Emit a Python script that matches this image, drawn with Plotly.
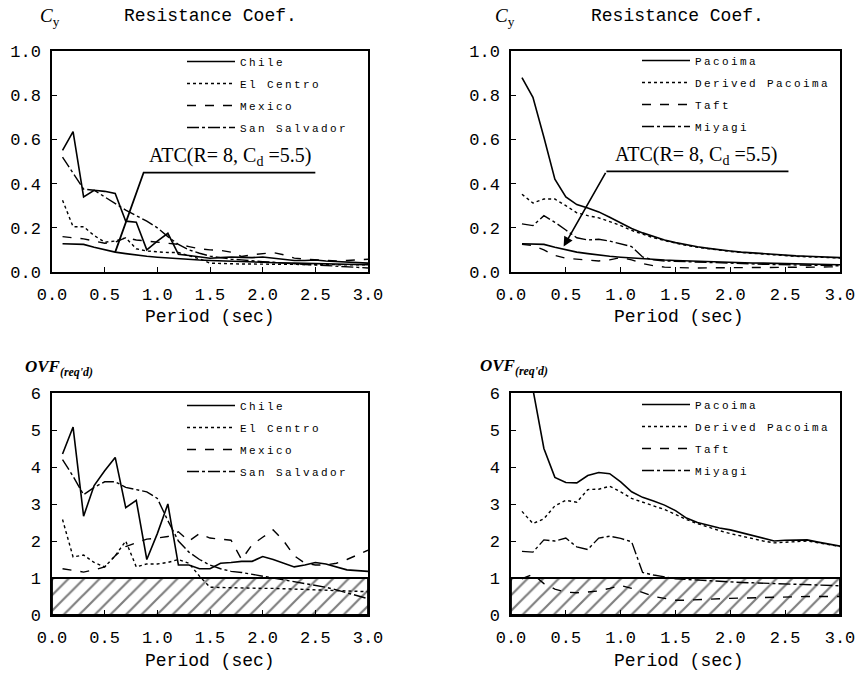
import plotly.graph_objects as go

W, H = 862, 673

period = [0.1, 0.2, 0.3, 0.4, 0.5, 0.6, 0.7, 0.8, 0.9, 1.0,
          1.1, 1.2, 1.3, 1.4, 1.5, 1.6, 1.7, 1.8, 1.9, 2.0,
          2.1, 2.2, 2.3, 2.4, 2.5, 2.6, 2.7, 2.8, 2.9, 3.0]

atc_cy = [0.128, 0.128, 0.125, 0.112, 0.1, 0.09, 0.083, 0.076, 0.071, 0.067,
          0.063, 0.06, 0.057, 0.054, 0.052, 0.05, 0.048, 0.046, 0.045, 0.043,
          0.042, 0.041, 0.04, 0.039, 0.038, 0.037, 0.036, 0.035, 0.034, 0.033]

# Top-left: resistance coefficient
chile_cy = [0.55, 0.635, 0.34, 0.37, 0.365, 0.355, 0.23, 0.225, 0.10, 0.14,
            0.175, 0.08, 0.075, 0.068, 0.062, 0.065, 0.068, 0.066, 0.065, 0.068,
            0.063, 0.058, 0.052, 0.052, 0.054, 0.05, 0.047, 0.043, 0.041, 0.04]
elcentro_cy = [0.325, 0.205, 0.205, 0.165, 0.135, 0.14, 0.155, 0.105, 0.095, 0.09,
               0.088, 0.088, 0.075, 0.06, 0.04, 0.038, 0.037, 0.036, 0.036, 0.035,
               0.035, 0.035, 0.034, 0.034, 0.034, 0.033, 0.033, 0.032, 0.032, 0.032]
mexico_cy = [0.16, 0.155, 0.15, 0.14, 0.13, 0.135, 0.155, 0.145, 0.14, 0.135,
             0.13, 0.125, 0.115, 0.105, 0.1, 0.098, 0.09, 0.07, 0.078, 0.083,
             0.088, 0.078, 0.063, 0.058, 0.055, 0.052, 0.05, 0.052, 0.055, 0.058]
sansal_cy = [0.52, 0.45, 0.375, 0.37, 0.34, 0.31, 0.28, 0.255, 0.23, 0.2,
             0.16, 0.125, 0.1, 0.085, 0.072, 0.065, 0.058, 0.055, 0.05, 0.047,
             0.044, 0.04, 0.037, 0.034, 0.032, 0.03, 0.027, 0.024, 0.021, 0.018]

# Top-right: resistance coefficient
pacoima_cy = [0.88, 0.79, 0.61, 0.42, 0.34, 0.305, 0.29, 0.272, 0.248, 0.222,
              0.197, 0.177, 0.16, 0.145, 0.133, 0.122, 0.114, 0.107, 0.1, 0.095,
              0.09, 0.086, 0.082, 0.078, 0.075, 0.073, 0.071, 0.069, 0.067, 0.065]
derived_cy = [0.352, 0.312, 0.33, 0.33, 0.3, 0.268, 0.255, 0.245, 0.228, 0.21,
              0.188, 0.17, 0.155, 0.142, 0.13, 0.12, 0.112, 0.105, 0.098, 0.093,
              0.088, 0.084, 0.08, 0.076, 0.073, 0.071, 0.069, 0.067, 0.065, 0.063]
taft_cy = [0.125, 0.12, 0.1, 0.075, 0.062, 0.058, 0.052, 0.05, 0.055, 0.065,
           0.055, 0.038, 0.028, 0.022, 0.02, 0.018, 0.018, 0.019, 0.019, 0.02,
           0.02, 0.02, 0.021, 0.021, 0.021, 0.022, 0.022, 0.022, 0.023, 0.023]
miyagi_cy = [0.218, 0.21, 0.255, 0.225, 0.19, 0.155, 0.145, 0.148, 0.14, 0.128,
             0.115, 0.068, 0.055, 0.05, 0.048, 0.046, 0.044, 0.042, 0.04, 0.038,
             0.037, 0.036, 0.035, 0.034, 0.033, 0.032, 0.031, 0.03, 0.029, 0.028]

# Bottom-left: OVF required
chile_ovf = [4.35, 5.08, 2.67, 3.5, 3.9, 4.26, 2.9, 3.1, 1.5, 2.2,
             3.0, 1.35, 1.35, 1.25, 1.25, 1.4, 1.42, 1.45, 1.45, 1.58,
             1.5, 1.4, 1.3, 1.35, 1.42, 1.38, 1.3, 1.22, 1.2, 1.18]
elcentro_ovf = [2.58, 1.57, 1.62, 1.42, 1.3, 1.6, 2.0, 1.3, 1.38, 1.38,
                1.42, 1.5, 1.4, 1.05, 0.75, 0.74, 0.74, 0.73, 0.73, 0.72,
                0.72, 0.71, 0.7, 0.69, 0.68, 0.67, 0.66, 0.65, 0.64, 0.63]
mexico_ovf = [1.25, 1.2, 1.16, 1.22, 1.3, 1.6, 1.85, 1.95, 2.05, 2.08,
              2.12, 2.25, 2.0, 2.2, 2.08, 2.05, 2.02, 1.5, 1.9, 2.1,
              2.3, 2.0, 1.6, 1.4, 1.35, 1.35, 1.4, 1.5, 1.62, 1.75]
sansal_ovf = [4.2, 3.75, 3.25, 3.45, 3.6, 3.6, 3.45, 3.4, 3.33, 3.15,
              2.55, 2.0, 1.7, 1.5, 1.35, 1.25, 1.18, 1.15, 1.1, 1.06,
              1.02, 0.95, 0.9, 0.85, 0.8, 0.75, 0.68, 0.6, 0.52, 0.44]

# Bottom-right: OVF required
pacoima_ovf = [7.0, 6.1, 4.5, 3.72, 3.58, 3.57, 3.77, 3.85, 3.82, 3.6,
               3.33, 3.18, 3.08, 2.97, 2.82, 2.62, 2.5, 2.42, 2.35, 2.3,
               2.22, 2.14, 2.07, 2.0, 2.02, 2.02, 2.03, 1.97, 1.92, 1.86]
derived_ovf = [2.8, 2.47, 2.6, 2.95, 3.1, 3.05, 3.39, 3.4, 3.48, 3.33,
               3.15, 3.05, 2.95, 2.85, 2.72, 2.58, 2.47, 2.37, 2.28, 2.2,
               2.13, 2.06, 2.0, 1.95, 1.97, 1.98, 2.0, 1.95, 1.9, 1.85]
taft_ovf = [0.98, 1.1, 0.85, 0.7, 0.62, 0.6, 0.62, 0.65, 0.72, 0.8,
            0.72, 0.6, 0.5, 0.45, 0.4, 0.4, 0.42, 0.43, 0.44, 0.45,
            0.46, 0.47, 0.47, 0.48, 0.48, 0.49, 0.5, 0.5, 0.5, 0.5]
miyagi_ovf = [1.72, 1.7, 2.03, 2.0, 2.08, 1.84, 1.77, 2.08, 2.13, 2.07,
              1.98, 1.15, 1.08, 1.02, 0.98, 0.96, 0.94, 0.92, 0.9, 0.89,
              0.88, 0.87, 0.86, 0.85, 0.84, 0.83, 0.82, 0.81, 0.8, 0.79]

# Hatched "OVF < 1" band
band_x = [0, 3, 3, 0, 0]
band_y = [0, 0, 1, 1, 0]

# ATC leader lines (data coordinates)
atc_tl_x = [0.6, 0.87, 2.5]
atc_tl_y = [0.09, 0.45, 0.45]
atc_tr_x = [0.87, 2.53]
atc_tr_y = [0.455, 0.455]
atc_tr_head = (0.48, 0.115)

MONO = "Liberation Mono"
SERIF = "Liberation Serif"

def px(x):
    return x / W

def py(y):
    return 1 - y / H

fig = go.Figure()

styles = {
    "solid": dict(dash="solid", width=1.6),
    "dot": dict(dash="dot", width=1.4),
    "dash": dict(dash="dash", width=1.4),
    "dashdot": dict(dash="12px,3px,3px,3px", width=1.4),
}

def leg(name):
    return '<span style="letter-spacing:2.4px">' + name + '</span>'

def add_series(xa, ya, legend, names, series, styles_list):
    for n, s, st in zip(names, series, styles_list):
        fig.add_trace(go.Scatter(
            x=period, y=s, mode="lines", name=leg(n),
            line=dict(color="black", **styles[st]),
            xaxis=xa, yaxis=ya, legend=legend, legendgroup=legend + n,
        ))

def add_atc(xa, ya):
    fig.add_trace(go.Scatter(x=period, y=atc_cy, mode="lines",
                             line=dict(color="black", width=1.6),
                             xaxis=xa, yaxis=ya, showlegend=False))

def add_band(xa, ya):
    fig.add_trace(go.Scatter(
        x=band_x, y=band_y, mode="lines", fill="toself",
        fillcolor="white",
        fillpattern=dict(shape="/", fgcolor="black", bgcolor="white",
                         size=11, solidity=0.2),
        line=dict(color="black", width=1.8),
        xaxis=xa, yaxis=ya, showlegend=False, hoverinfo="skip"))

st4 = ["solid", "dot", "dash", "dashdot"]

add_atc("x", "y")
add_series("x", "y", "legend", ["Chile", "El Centro", "Mexico", "San Salvador"],
           [chile_cy, elcentro_cy, mexico_cy, sansal_cy], st4)
add_atc("x2", "y2")
add_series("x2", "y2", "legend2", ["Pacoima", "Derived Pacoima", "Taft", "Miyagi"],
           [pacoima_cy, derived_cy, taft_cy, miyagi_cy], st4)
add_band("x3", "y3")
add_series("x3", "y3", "legend3", ["Chile", "El Centro", "Mexico", "San Salvador"],
           [chile_ovf, elcentro_ovf, mexico_ovf, sansal_ovf], st4)
add_band("x4", "y4")
add_series("x4", "y4", "legend4", ["Pacoima", "Derived Pacoima", "Taft", "Miyagi"],
           [pacoima_ovf, derived_ovf, taft_ovf, miyagi_ovf], st4)

# ATC leader lines
fig.add_trace(go.Scatter(x=atc_tl_x, y=atc_tl_y, mode="lines",
                         line=dict(color="black", width=1.8),
                         xaxis="x", yaxis="y", showlegend=False))
fig.add_trace(go.Scatter(x=atc_tr_x, y=atc_tr_y, mode="lines",
                         line=dict(color="black", width=1.8),
                         xaxis="x2", yaxis="y2", showlegend=False))

tickfont = dict(family=MONO, size=17, color="black")

def axis_x(dom, anchor):
    return dict(domain=dom, anchor=anchor, range=[0, 3], dtick=0.5, tick0=0,
                tickformat=".1f", ticks="inside", ticklen=5, tickcolor="black",
                showline=True, linecolor="black", linewidth=1.5, mirror=True,
                showgrid=False, zeroline=False, tickfont=tickfont,
                ticklabelstandoff=6, automargin=False)

def axis_y(dom, anchor, rng, dt, fmt):
    return dict(domain=dom, anchor=anchor, range=rng, dtick=dt, tick0=0,
                tickformat=fmt, ticks="inside", ticklen=5, tickcolor="black",
                showline=True, linecolor="black", linewidth=1.5, mirror=True,
                showgrid=False, zeroline=False, tickfont=tickfont,
                ticklabelstandoff=6, automargin=False)

xl = [px(52), px(368)]
xr = [px(511), px(840)]
yt = [py(272), py(51)]
yb = [py(615), py(393)]

legfont = dict(family=MONO, size=11, color="black")

def legend_at(x, y):
    return dict(x=px(x), y=py(y), xanchor="left", yanchor="top",
                bgcolor="rgba(0,0,0,0)", font=legfont, tracegroupgap=3,
                itemwidth=48, borderwidth=0)

fig.update_layout(
    width=W, height=H,
    margin=dict(l=0, r=0, t=0, b=0, pad=0, autoexpand=False),
    paper_bgcolor="white", plot_bgcolor="white",
    xaxis=axis_x(xl, "y"), yaxis=axis_y(yt, "x", [0, 1], 0.2, ".1f"),
    xaxis2=axis_x(xr, "y2"), yaxis2=axis_y(yt, "x2", [0, 1], 0.2, ".1f"),
    xaxis3=axis_x(xl, "y3"), yaxis3=axis_y(yb, "x3", [0, 6], 1, "d"),
    xaxis4=axis_x(xr, "y4"), yaxis4=axis_y(yb, "x4", [0, 6], 1, "d"),
    legend=legend_at(182, 47),
    legend2=legend_at(637, 46),
    legend3=legend_at(182, 391),
    legend4=legend_at(637, 390),
    showlegend=True,
)

ann = []
def text(x, y, t, size=18, family=MONO, xanchor="center"):
    ann.append(dict(x=px(x), y=py(y), xref="paper", yref="paper", text=t,
                    showarrow=False, xanchor=xanchor, yanchor="middle",
                    font=dict(family=family, size=size, color="black")))

text(210, 16, "Resistance Coef.")
text(677, 16, "Resistance Coef.")
text(50, 17, "<i>C</i><sub>y</sub>", family=SERIF, size=19)
text(505, 17, "<i>C</i><sub>y</sub>", family=SERIF, size=19)
text(210, 317, "Period (sec)")
text(679, 317, "Period (sec)")
text(210, 661, "Period (sec)")
text(679, 661, "Period (sec)")
text(23, 368, "<i><b>OVF</b></i><sub><i><b>(req'd)</b></i></sub>", family=SERIF,
     size=17, xanchor="left")
text(478, 367, "<i><b>OVF</b></i><sub><i><b>(req'd)</b></i></sub>", family=SERIF,
     size=17, xanchor="left")

atc_label = "ATC(R= 8, C<sub>d</sub> =5.5)"
ann.append(dict(x=0.9, y=0.455, xref="x", yref="y", text=atc_label,
                showarrow=False, xanchor="left", yanchor="bottom",
                font=dict(family=SERIF, size=20, color="black")))
ann.append(dict(x=0.93, y=0.46, xref="x2", yref="y2", text=atc_label,
                showarrow=False, xanchor="left", yanchor="bottom",
                font=dict(family=SERIF, size=20, color="black")))
ann.append(dict(x=atc_tr_head[0], y=atc_tr_head[1], xref="x2", yref="y2",
                ax=atc_tr_x[0], ay=atc_tr_y[0], axref="x2", ayref="y2",
                text="", showarrow=True, arrowhead=2, arrowsize=1.2,
                arrowwidth=1.6, arrowcolor="black"))

fig.update_layout(annotations=ann)

fig.write_html("out.html",
               config={"displayModeBar": False},
               post_script="document.body.style.margin='0px';"
                           "document.body.style.overflow='hidden';")
